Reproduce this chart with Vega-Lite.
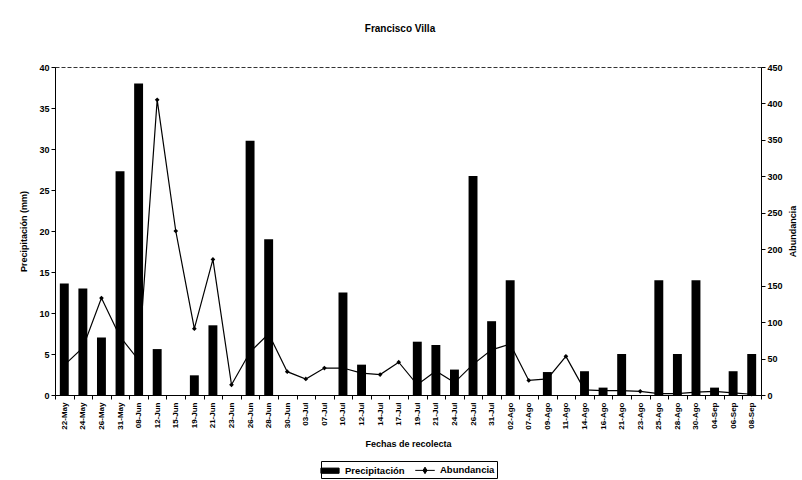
{
  "$schema": "https://vega.github.io/schema/vega-lite/v6.json",
  "autosize": "none",
  "width": 706,
  "height": 328,
  "padding": {"left": 55, "top": 67, "right": 41, "bottom": 85},
  "background": "white",
  "title": {"text": "Francisco Villa", "font": "Liberation Sans", "fontSize": 10, "fontWeight": "bold", "color": "black", "anchor": "middle", "offset": 29, "dx": -8},
  "data": {"values": [
    {"fecha": "22-May", "precip": 13.6, "abund": 41},
    {"fecha": "24-May", "precip": 13.0, "abund": 65},
    {"fecha": "26-May", "precip": 7.0, "abund": 133},
    {"fecha": "31-May", "precip": 27.3, "abund": 80},
    {"fecha": "08-Jun", "precip": 38.0, "abund": 48},
    {"fecha": "12-Jun", "precip": 5.6, "abund": 405},
    {"fecha": "15-Jun", "precip": 0, "abund": 225},
    {"fecha": "19-Jun", "precip": 2.4, "abund": 91},
    {"fecha": "21-Jun", "precip": 8.5, "abund": 186},
    {"fecha": "23-Jun", "precip": 0, "abund": 14},
    {"fecha": "26-Jun", "precip": 31.0, "abund": 59},
    {"fecha": "28-Jun", "precip": 19.0, "abund": 84},
    {"fecha": "30-Jun", "precip": 0, "abund": 32},
    {"fecha": "03-Jul", "precip": 0, "abund": 22},
    {"fecha": "07-Jul", "precip": 0, "abund": 37},
    {"fecha": "10-Jul", "precip": 12.5, "abund": 37},
    {"fecha": "12-Jul", "precip": 3.7, "abund": 30},
    {"fecha": "14-Jul", "precip": 0, "abund": 28},
    {"fecha": "17-Jul", "precip": 0, "abund": 45},
    {"fecha": "19-Jul", "precip": 6.5, "abund": 14},
    {"fecha": "21-Jul", "precip": 6.1, "abund": 33},
    {"fecha": "24-Jul", "precip": 3.1, "abund": 17},
    {"fecha": "26-Jul", "precip": 26.7, "abund": 42},
    {"fecha": "31-Jul", "precip": 9.0, "abund": 62},
    {"fecha": "02-Ago", "precip": 14.0, "abund": 70},
    {"fecha": "07-Ago", "precip": 0, "abund": 20},
    {"fecha": "09-Ago", "precip": 2.8, "abund": 22},
    {"fecha": "11-Ago", "precip": 0, "abund": 53},
    {"fecha": "14-Ago", "precip": 2.9, "abund": 7},
    {"fecha": "16-Ago", "precip": 0.9, "abund": 6},
    {"fecha": "21-Ago", "precip": 5.0, "abund": 6},
    {"fecha": "23-Ago", "precip": 0, "abund": 5},
    {"fecha": "25-Ago", "precip": 14.0, "abund": 2},
    {"fecha": "28-Ago", "precip": 5.0, "abund": 2},
    {"fecha": "30-Ago", "precip": 14.0, "abund": 4},
    {"fecha": "04-Sep", "precip": 0.9, "abund": 5},
    {"fecha": "06-Sep", "precip": 2.9, "abund": 3},
    {"fecha": "08-Sep", "precip": 5.0, "abund": 1}
  ]},
  "encoding": {
    "x": {
      "field": "fecha", "type": "nominal", "sort": null,
      "scale": {"paddingInner": 0, "paddingOuter": 0},
      "axis": {
        "title": "Fechas de recolecta", "labelAngle": -90, "tickBand": "extent",
        "labelFontSize": 8, "titlePadding": 10, "labelPadding": 3, "tickSize": 4
      }
    }
  },
  "layer": [
    {
      "mark": {"type": "bar", "width": {"band": 0.48}},
      "encoding": {
        "y": {
          "field": "precip", "type": "quantitative",
          "scale": {"domain": [0, 40], "nice": false},
          "axis": {"orient": "left", "title": "Precipitación (mm)", "values": [0, 5, 10, 15, 20, 25, 30, 35, 40], "titlePadding": 10}
        },
        "color": {
          "datum": "Precipitación", "type": "nominal",
          "scale": {"domain": ["Precipitación", "Abundancia"], "range": ["black", "black"]},
          "legend": {
            "encode": {
              "symbols": {
                "update": {
                  "shape": {"signal": "datum.value === 'Precipitación' ? 'M-1.4,-0.4H1.4V0.4H-1.4Z' : 'M-1.5,0H1.5M0,-0.5L0.3,0L0,0.5L-0.3,0Z'"},
                  "fill": {"value": "black"},
                  "stroke": {"value": "black"},
                  "strokeWidth": {"value": 1},
                  "opacity": {"value": 1},
                  "fillOpacity": {"value": 1}
                }
              }
            }
          }
        }
      }
    },
    {
      "mark": {"type": "line", "strokeWidth": 1.2, "point": {"shape": "diamond", "size": 22, "filled": true}},
      "encoding": {
        "y": {
          "field": "abund", "type": "quantitative",
          "scale": {"domain": [0, 450], "nice": false},
          "axis": {"orient": "right", "title": "Abundancia", "values": [0, 50, 100, 150, 200, 250, 300, 350, 400, 450], "titleAngle": 270, "titlePadding": 15}
        },
        "color": {"datum": "Abundancia", "type": "nominal"}
      }
    }
  ],
  "resolve": {"scale": {"y": "independent"}},
  "config": {
    "font": "Liberation Sans",
    "view": {"stroke": "#333", "strokeDash": [4, 2], "strokeWidth": 1},
    "axis": {
      "domainColor": "black", "tickColor": "black", "labelColor": "black", "titleColor": "black",
      "labelFont": "Liberation Sans", "titleFont": "Liberation Sans",
      "labelFontWeight": "bold", "titleFontWeight": "bold",
      "labelFontSize": 9, "titleFontSize": 9, "grid": false, "tickSize": 4
    },
    "legend": {
      "orient": "none", "legendX": 266, "legendY": 394, "direction": "horizontal",
      "title": null, "strokeColor": "black", "padding": 2,
      "labelFont": "Liberation Sans", "labelFontSize": 9.5, "labelFontWeight": "bold", "labelColor": "black",
      "symbolSize": 169, "columnPadding": 8, "labelOffset": 8
    }
  }
}
